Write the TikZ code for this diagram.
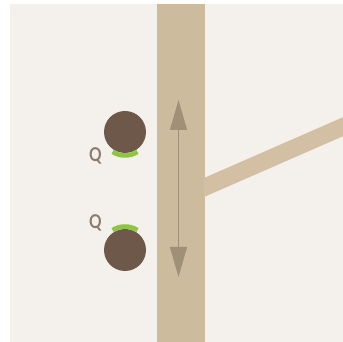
\documentclass[tikz,border=0pt]{standalone}
\usepackage{fontspec}
\setsansfont{Lato}
\usetikzlibrary{arrows.meta}
\definecolor{panel}{HTML}{F4F1EC}
\definecolor{trunk}{HTML}{CDBB9E}
\definecolor{branch}{HTML}{D3BFA4}
\definecolor{arrowc}{HTML}{A09078}
\definecolor{ball}{HTML}{6E5849}
\definecolor{leaf}{HTML}{8DC63F}
\definecolor{qtext}{HTML}{8B7B6B}
\tikzset{
  ballnode/.style={circle,fill=ball,minimum size=42pt,inner sep=0pt},
  qlabel/.style={text=qtext,font=\sffamily\bfseries\fontsize{19}{19}\selectfont,inner sep=0pt,xscale=0.82},
  leafarc/.style={draw=leaf,line width=4.5pt},
  motion/.style={draw=arrowc,line width=1.3pt,{Triangle[length=30pt,width=17pt]}-{Triangle[length=30pt,width=17pt]}}
}
\begin{document}
\begin{tikzpicture}[x=1pt,y=1pt]
\useasboundingbox (0,0) rectangle (343,342);
\fill[white] (0,0) rectangle (343,342);
\fill[panel] (10,0) rectangle (343.5,338);
% trunk
\fill[trunk] (157,0) rectangle (205,338);
% branch
\fill[branch] (204,164) -- (343.5,225) -- (343.5,206) -- (204,145) -- cycle;
% arrow
\coordinate (atop) at (178.5,242);
\coordinate (abot) at (178.5,65);
\draw[motion] (atop) -- (abot);
% balls
\node[ballnode] (b1) at (125,210) {};
\node[ballnode] (b2) at (125,92) {};
\draw[leafarc] ([shift={(238:23.5)}]b1.center) arc[start angle=238,end angle=302,radius=23.5];
\draw[leafarc] ([shift={(58:23.5)}]b2.center) arc[start angle=58,end angle=122,radius=23.5];
\node[qlabel] (q1) at (95.5,186) {Q};
\node[qlabel] (q2) at (95.5,119) {Q};
\end{tikzpicture}
\end{document}
